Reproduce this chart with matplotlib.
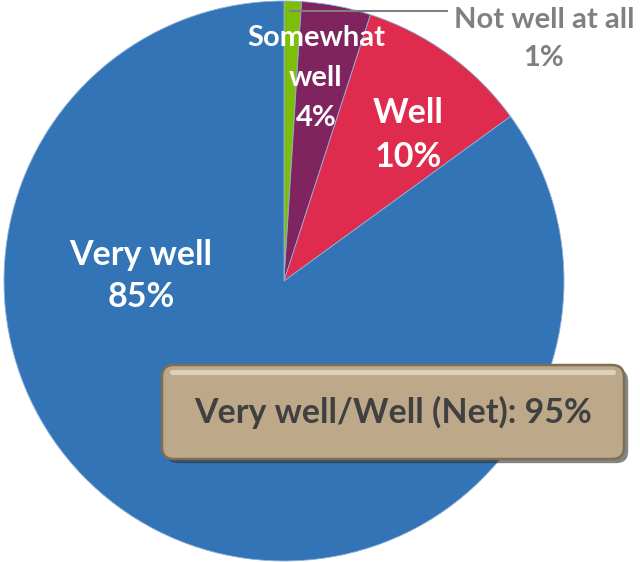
import matplotlib.pyplot as plt
import matplotlib.patheffects as pe
from matplotlib.patches import FancyBboxPatch

labels = ["Not well at all", "Somewhat\nwell", "Well", "Very well"]
values = [1, 4, 10, 85]
colors = ["#7DBE0A", "#80245F", "#DE2B4E", "#3274B5"]
net_label = "Very well/Well (Net): 95%"

plt.rcParams['font.family'] = ['Lato', 'DejaVu Sans']

fig = plt.figure(figsize=(6.4, 5.62), dpi=100)
ax = fig.add_axes([0, 0, 1, 1])

ax.pie(values, colors=colors, startangle=90, counterclock=False,
       center=(284, 281), radius=280, frame=True,
       wedgeprops=dict(linewidth=0.6, edgecolor='#8fb0d8'))
ax.set_xlim(0, 640)
ax.set_ylim(0, 562)
ax.set_aspect('equal')
ax.axis('off')

# slice labels
ax.text(316, 562 - 78, f"{labels[1]}\n{values[1]}%", color='white', fontsize=21,
        fontweight='bold', ha='center', va='center', linespacing=1.65)
ax.text(408, 562 - 135, f"{labels[2]}\n{values[2]}%", color='white', fontsize=24.5,
        fontweight='bold', ha='center', va='center', linespacing=1.45)
ax.text(141, 562 - 276, f"{labels[3]}\n{values[3]}%", color='white', fontsize=24.5,
        fontweight='bold', ha='center', va='center', linespacing=1.4)
ax.text(544, 562 - 39, f"{labels[0]}\n{values[0]}%", color='#808080', fontsize=21,
        fontweight='bold', ha='center', va='center', linespacing=1.55)
ax.plot([290, 447], [562 - 11, 562 - 11], color='#808080', linewidth=1.5)

# net box
box = FancyBboxPatch((162, 562 - 459), 462, 94,
                     boxstyle="round,pad=0,rounding_size=12",
                     facecolor='#BDA98A', edgecolor='#7d6e55', linewidth=1.8,
                     path_effects=[pe.withSimplePatchShadow(offset=(3, -3), shadow_rgbFace='#333333', alpha=0.6)])
ax.add_patch(box)
hl = FancyBboxPatch((170, 562 - 375), 446, 5,
                    boxstyle="round,pad=0,rounding_size=2.5",
                    facecolor='#e6dcc6', edgecolor='none', alpha=0.8)
ax.add_patch(hl)
ax.text(393, 562 - 412, net_label, color='#404040', fontsize=24.5,
        fontweight='bold', ha='center', va='center')

fig.savefig('out.png', dpi=100)
